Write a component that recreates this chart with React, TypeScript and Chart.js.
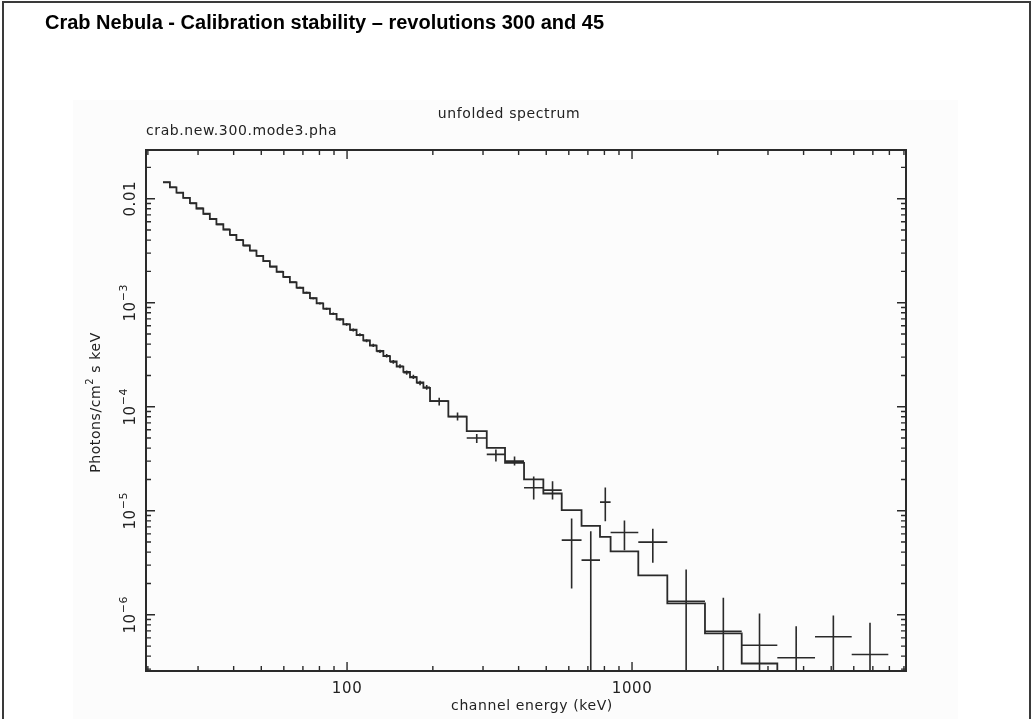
import React, { useEffect, useRef } from "react";
import { Chart, registerables } from "chart.js";

Chart.register(...registerables);

// ---------- texts ----------
const SLIDE_TITLE = "Crab Nebula - Calibration stability \u2013 revolutions 300 and 45";
const PLOT_TITLE = "unfolded spectrum";
const FILE_LABEL = "crab.new.300.mode3.pha";
const X_TITLE = "channel energy (keV)";
const Y_TITLE_A = "Photons/cm";
const Y_TITLE_SUP = "2";
const Y_TITLE_B = " s keV";

// ---------- axis ranges ----------
const X_MIN = 19.7;
const X_MAX = 9150;
const Y_MIN = 2.88e-7;
const Y_MAX = 0.0294;

// ---------- tick values / labels ----------
const xMajorTicks = [100, 1000];
const xMajorLabels = ["100", "1000"];
const xMinorTicks = [20, 30, 40, 50, 60, 70, 80, 90, 200, 300, 400, 500, 600, 700, 800, 900, 2000, 3000, 4000, 5000, 6000, 7000, 8000, 9000];
const yMajorTicks = [0.01, 1e-3, 1e-4, 1e-5, 1e-6];
const yLabelBase = ["0.01", "10", "10", "10", "10"];
const yLabelExp = ["", "\u22123", "\u22124", "\u22125", "\u22126"];
const yMinorTicks = [
  3e-7, 4e-7, 5e-7, 6e-7, 7e-7, 8e-7, 9e-7,
  2e-6, 3e-6, 4e-6, 5e-6, 6e-6, 7e-6, 8e-6, 9e-6,
  2e-5, 3e-5, 4e-5, 5e-5, 6e-5, 7e-5, 8e-5, 9e-5,
  2e-4, 3e-4, 4e-4, 5e-4, 6e-4, 7e-4, 8e-4, 9e-4,
  2e-3, 3e-3, 4e-3, 5e-3, 6e-3, 7e-3, 8e-3, 9e-3,
  0.02,
];

// ---------- spectrum: fine channels (keV edges, photons/cm2/s/keV) ----------
const fineEdges = [22.6, 23.9, 25.2, 26.6, 28.1, 29.6, 31.3, 33.0, 34.8, 36.8, 38.8, 40.9, 43.2, 45.6, 48.1, 50.8, 53.6, 56.6, 59.7, 63.0, 66.5, 70.2, 74.1, 78.2, 82.5, 87.1, 91.9, 97.0, 102.4, 108.0, 114.0, 120.3, 127.0, 134.1, 141.5, 149.3, 157.6, 166.3, 175.6, 185.3, 195.5];
const fineModel = [0.01444, 0.01285, 0.01143, 0.01017, 0.00905, 0.00805, 0.00717, 0.00638, 0.00568, 0.00505, 0.00449, 0.004, 0.00356, 0.00317, 0.00282, 0.00251, 0.00223, 0.00198, 0.00177, 0.00157, 0.0014, 0.001244, 0.001107, 0.000985, 0.000877, 0.00078, 0.000694, 0.000618, 0.00055, 0.000489, 0.000435, 0.000387, 0.000344, 0.000307, 0.000273, 0.000243, 0.000216, 0.000192, 0.000171, 0.000152];
const fineData = [0.0143, 0.0129, 0.0114, 0.0102, 0.00902, 0.00808, 0.00714, 0.00641, 0.00566, 0.00507, 0.00447, 0.00402, 0.00354, 0.00318, 0.00281, 0.00252, 0.00222, 0.00199, 0.00176, 0.00158, 0.00139, 0.00125, 0.0011, 0.000988, 0.000874, 0.000783, 0.00069, 0.000621, 0.000547, 0.000492, 0.000432, 0.00039, 0.000341, 0.000309, 0.00027, 0.000245, 0.000213, 0.000194, 0.000169, 0.000154];
const fineRelErr = [0.012, 0.012, 0.012, 0.012, 0.012, 0.013, 0.013, 0.013, 0.014, 0.014, 0.015, 0.015, 0.016, 0.016, 0.017, 0.018, 0.018, 0.019, 0.02, 0.021, 0.022, 0.023, 0.024, 0.025, 0.026, 0.027, 0.028, 0.03, 0.031, 0.033, 0.034, 0.036, 0.038, 0.04, 0.042, 0.044, 0.046, 0.048, 0.05, 0.052];

// ---------- spectrum: wide channels ----------
const wideEdges = [195.5, 226.7, 263.0, 309.2, 358.4, 417.9, 488.5, 566.6, 665, 772, 841, 1052, 1330, 1803, 2426, 3235, 4387, 5900, 7931];
const wideModel = [1.132e-4, 8.02e-5, 5.83e-5, 4.03e-5, 2.89e-5, 2.0e-5, 1.466e-5, 1.013e-5, 7.14e-6, 5.6e-6, 4.06e-6, 2.39e-6, 1.285e-6, 6.61e-7, 3.4e-7, 2.0e-7, 1.3e-7, 9e-8];
const wideData = [1.132e-4, 8.06e-5, 5.01e-5, 3.48e-5, 3.0e-5, 1.664e-5, 1.578e-5, 5.22e-6, 3.35e-6, 1.21e-5, 6.18e-6, 4.99e-6, 1.35e-6, 6.95e-7, 5.1e-7, 3.86e-7, 6.14e-7, 4.15e-7];
const wideHi = [1.221e-4, 8.81e-5, 5.48e-5, 3.885e-5, 3.33e-5, 2.14e-5, 1.925e-5, 8.43e-6, 6.37e-6, 1.67e-5, 8.06e-6, 6.71e-6, 2.73e-6, 1.457e-6, 1.029e-6, 7.77e-7, 9.85e-7, 8.38e-7];
// 0 = lower error bar reaches below the axis
const wideLo = [1.029e-4, 7.38e-5, 4.49e-5, 2.98e-5, 2.73e-5, 1.284e-5, 1.284e-5, 1.79e-6, 0, 7.94e-6, 4.18e-6, 3.16e-6, 0, 0, 0, 0, 0, 0];

// ---------- derived tables ----------
const edges = [...fineEdges, ...wideEdges.slice(1)];
const model = [...fineModel, ...wideModel];
const dataVal = [...fineData, ...wideData];
const dataHi = [...fineData.map((v, i) => v * (1 + fineRelErr[i])), ...wideHi];
const dataLo = [...fineData.map((v, i) => v * (1 - fineRelErr[i])), ...wideLo];
const centers = dataVal.map((_, i) => Math.sqrt(edges[i] * edges[i + 1]));

const modelPoints: { x: number; y: number }[] = [];
model.forEach((v, i) => {
  modelPoints.push({ x: edges[i], y: v });
  modelPoints.push({ x: edges[i + 1], y: v });
});
const dataPoints = dataVal.map((v, i) => ({ x: centers[i], y: v }));

const INK = "#2a2a2a";
const TXT = "#222";
const PLOT_FONT = '"DejaVu Sans", sans-serif';

const decorPlugin = {
  id: "pgplotDecor",
  beforeDraw(chart: any) {
    const ctx = chart.ctx;
    ctx.save();
    ctx.fillStyle = "#ffffff";
    ctx.fillRect(0, 0, chart.width, chart.height);
    ctx.fillStyle = "#fcfcfc";
    ctx.fillRect(73, 100, 885, 619);
    ctx.restore();
  },
  afterDatasetsDraw(chart: any) {
    const ctx: CanvasRenderingContext2D = chart.ctx;
    const a = chart.chartArea;
    const xs = chart.scales.x;
    const ys = chart.scales.y;

    // error crosses
    ctx.save();
    ctx.beginPath();
    ctx.rect(a.left, a.top, a.right - a.left, a.bottom - a.top);
    ctx.clip();
    ctx.strokeStyle = INK;
    ctx.lineWidth = 1.6;
    ctx.beginPath();
    dataVal.forEach((v, i) => {
      const x0 = xs.getPixelForValue(edges[i]);
      const x1 = xs.getPixelForValue(edges[i + 1]);
      const xc = xs.getPixelForValue(centers[i]);
      const yc = ys.getPixelForValue(v);
      const yh = ys.getPixelForValue(dataHi[i]);
      const yl = ys.getPixelForValue(dataLo[i] > 0 ? dataLo[i] : Y_MIN / 100);
      ctx.moveTo(x0, yc);
      ctx.lineTo(x1, yc);
      ctx.moveTo(xc, yh);
      ctx.lineTo(xc, yl);
    });
    ctx.stroke();
    ctx.restore();

    // frame
    ctx.save();
    ctx.strokeStyle = INK;
    ctx.lineWidth = 2;
    ctx.strokeRect(a.left, a.top, a.right - a.left, a.bottom - a.top);

    // ticks (inward, all four sides)
    ctx.lineWidth = 1.4;
    ctx.beginPath();
    const xTick = (v: number, len: number) => {
      const p = xs.getPixelForValue(v);
      ctx.moveTo(p, a.bottom);
      ctx.lineTo(p, a.bottom - len);
      ctx.moveTo(p, a.top);
      ctx.lineTo(p, a.top + len);
    };
    const yTick = (v: number, len: number) => {
      const p = ys.getPixelForValue(v);
      ctx.moveTo(a.left, p);
      ctx.lineTo(a.left + len, p);
      ctx.moveTo(a.right, p);
      ctx.lineTo(a.right - len, p);
    };
    xMajorTicks.forEach((v) => xTick(v, 9));
    xMinorTicks.forEach((v) => xTick(v, 5));
    yMajorTicks.forEach((v) => yTick(v, 9));
    yMinorTicks.forEach((v) => yTick(v, 5));
    ctx.stroke();
    ctx.restore();

    // labels
    ctx.save();
    ctx.fillStyle = TXT;
    (ctx as any).letterSpacing = "0.6px";

    // x tick labels
    ctx.font = `15px ${PLOT_FONT}`;
    ctx.textAlign = "center";
    ctx.textBaseline = "alphabetic";
    xMajorTicks.forEach((v, i) => {
      ctx.fillText(xMajorLabels[i], xs.getPixelForValue(v), a.bottom + 22);
    });

    // y tick labels (rotated)
    yMajorTicks.forEach((v, i) => {
      const p = ys.getPixelForValue(v);
      ctx.save();
      ctx.translate(a.left - 11, p);
      ctx.rotate(-Math.PI / 2);
      ctx.textAlign = "left";
      ctx.font = `15px ${PLOT_FONT}`;
      const wb = ctx.measureText(yLabelBase[i]).width;
      ctx.font = `11px ${PLOT_FONT}`;
      const we = yLabelExp[i] ? ctx.measureText(yLabelExp[i]).width : 0;
      const start = -(wb + we) / 2;
      ctx.font = `15px ${PLOT_FONT}`;
      ctx.fillText(yLabelBase[i], start, 0);
      if (yLabelExp[i]) {
        ctx.font = `11px ${PLOT_FONT}`;
        ctx.fillText(yLabelExp[i], start + wb, -8);
      }
      ctx.restore();
    });

    // axis titles
    ctx.font = `14px ${PLOT_FONT}`;
    ctx.textAlign = "center";
    ctx.fillText(X_TITLE, (a.left + a.right) / 2 + 6, a.bottom + 39);

    ctx.save();
    ctx.translate(a.left - 46, (a.top + a.bottom) / 2 - 8);
    ctx.rotate(-Math.PI / 2);
    ctx.textAlign = "left";
    ctx.font = `14px ${PLOT_FONT}`;
    const w1 = ctx.measureText(Y_TITLE_A).width;
    const w3 = ctx.measureText(Y_TITLE_B).width;
    ctx.font = `10px ${PLOT_FONT}`;
    const w2 = ctx.measureText(Y_TITLE_SUP).width;
    let sx = -(w1 + w2 + w3) / 2;
    ctx.font = `14px ${PLOT_FONT}`;
    ctx.fillText(Y_TITLE_A, sx, 0);
    sx += w1;
    ctx.font = `10px ${PLOT_FONT}`;
    ctx.fillText(Y_TITLE_SUP, sx, -7);
    sx += w2;
    ctx.font = `14px ${PLOT_FONT}`;
    ctx.fillText(Y_TITLE_B, sx, 0);
    ctx.restore();

    // plot title and file label
    ctx.font = `14px ${PLOT_FONT}`;
    ctx.textAlign = "center";
    ctx.fillText(PLOT_TITLE, 509, 118);
    ctx.textAlign = "left";
    ctx.fillText(FILE_LABEL, a.left, 135);
    ctx.restore();
  },
};

export default function App() {
  const canvasRef = useRef<HTMLCanvasElement | null>(null);

  useEffect(() => {
    if (!canvasRef.current) return;
    const chart = new Chart(canvasRef.current, {
      type: "scatter",
      data: {
        datasets: [
          {
            label: "model",
            data: modelPoints,
            showLine: true,
            borderColor: INK,
            borderWidth: 1.8,
            pointRadius: 0,
            fill: false,
            tension: 0,
          },
          {
            label: "data",
            data: dataPoints,
            showLine: false,
            pointRadius: 0,
            borderColor: INK,
          },
        ],
      },
      options: {
        responsive: false,
        animation: false,
        devicePixelRatio: 1,
        layout: { padding: { left: 146, top: 150, right: 126, bottom: 48 } },
        scales: {
          x: { type: "logarithmic", min: X_MIN, max: X_MAX, display: false },
          y: { type: "logarithmic", min: Y_MIN, max: Y_MAX, display: false },
        },
        plugins: {
          legend: { display: false },
          tooltip: { enabled: false },
          title: { display: false },
        },
      },
      plugins: [decorPlugin],
    } as any);
    return () => chart.destroy();
  }, []);

  return (
    <div
      style={{
        position: "fixed",
        left: 0,
        top: 0,
        width: 1032,
        height: 719,
        background: "#fff",
        overflow: "hidden",
      }}
    >
      <canvas
        ref={canvasRef}
        width={1032}
        height={719}
        style={{ position: "absolute", left: 0, top: 0 }}
      />
      <div
        style={{
          position: "absolute",
          left: 45,
          top: 11,
          font: 'bold 20px "Liberation Sans", Arial, sans-serif',
          color: "#000",
          whiteSpace: "nowrap",
        }}
      >
        {SLIDE_TITLE}
      </div>
      <div
        style={{
          position: "absolute",
          left: 2,
          top: 1,
          width: 1025,
          height: 760,
          border: "2px solid #3a3a3a",
          pointerEvents: "none",
        }}
      />
    </div>
  );
}
